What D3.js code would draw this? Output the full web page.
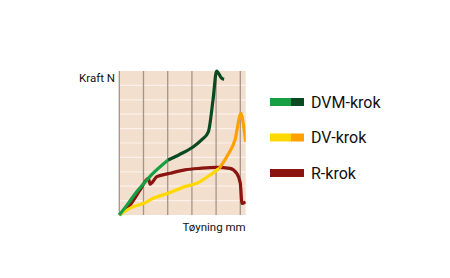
<!DOCTYPE html>
<html>
<head>
<meta charset="utf-8">
<script src="https://cdn.jsdelivr.net/npm/d3@7"></script>
<style>
  body { margin: 0; background: #fff; }
  text { font-family: Roboto, "Liberation Sans", sans-serif; fill: #111; }
</style>
</head>
<body>
<div id="chart"></div>
<script>
var svgWidth = 450;
var svgHeight = 278;

// plot box in pixels
var margin = { top: 71, left: 119.3, width: 126.4, height: 144 };

// readings from the picture (x: mm grid units, y: N grid units)
var dvmX = [0, 0.37, 0.72, 1.02, 1.40, 2.02, 2.51, 3.06, 3.40, 3.68, 3.88, 4.02, 4.23, 4.33];
var dvmY = [0, 0.81, 1.62, 2.20, 2.90, 3.82, 4.22, 4.74, 5.21, 5.78, 8.10, 10.0, 9.49, 9.42];
var dvmSplit = 5; // index where curve turns dark green

var dvX = [0, 0.58, 1.02, 1.40, 2.02, 2.71, 3.20, 3.75, 4.13, 4.44, 4.78, 5.03, 5.12, 5.22];
var dvY = [0, 0.58, 0.81, 1.16, 1.51, 1.97, 2.20, 2.78, 3.24, 4.05, 5.21, 7.06, 6.37, 5.09];
var dvSplit = 8;

var rX = [0, 0.44, 0.86, 1.20, 1.27, 1.55, 2.10, 2.71, 3.33, 4.02, 4.57, 4.85, 5.00, 5.07, 5.22];
var rY = [0, 0.69, 1.74, 2.55, 2.15, 2.66, 2.90, 3.13, 3.24, 3.31, 3.24, 2.90, 2.20, 0.81, 0.92];

var xTicks = [1, 2, 3, 4, 5];
var yTicks = [1, 2, 3, 4, 5, 6, 7, 8, 9];

var legendNames = ["DVM-krok", "DV-krok", "R-krok"];
var legendColors = [["#16a043", "#0a4a22"], ["#ffd800", "#ffa200"], ["#8a1410", "#8a1410"]];

var svg = d3.select("#chart")
    .append("svg")
    .attr("width", svgWidth)
    .attr("height", svgHeight);

var xScale = d3.scaleLinear()
    .domain([0, 5])
    .range([margin.left, margin.left + 121]);

var yScale = d3.scaleLinear()
    .domain([0, 10])
    .range([margin.top + margin.height, margin.top]);

svg.append("clipPath")
    .attr("id", "plotClip")
    .append("rect")
    .attr("x", margin.left - 2)
    .attr("y", margin.top - 4)
    .attr("width", margin.width + 2)
    .attr("height", margin.height + 8);

// background
svg.append("rect")
    .attr("x", margin.left)
    .attr("y", margin.top)
    .attr("width", margin.width)
    .attr("height", margin.height)
    .attr("fill", "#f3dfcd");

// horizontal light lines
svg.selectAll(".hgrid")
    .data(yTicks)
    .enter()
    .append("line")
    .attr("x1", margin.left)
    .attr("x2", margin.left + margin.width)
    .attr("y1", d => yScale(d))
    .attr("y2", d => yScale(d))
    .attr("stroke", "#fbf1ea")
    .attr("stroke-width", 1.2);

// vertical darker lines
svg.selectAll(".vgrid")
    .data([0].concat(xTicks))
    .enter()
    .append("line")
    .attr("x1", d => xScale(d))
    .attr("x2", d => xScale(d))
    .attr("y1", margin.top)
    .attr("y2", margin.top + margin.height)
    .attr("stroke", "#a49488")
    .attr("stroke-width", 1.3);

var line = d3.line()
    .x(d => xScale(d[0]))
    .y(d => yScale(d[1]))
    .curve(d3.curveMonotoneX);

function drawCurve(xs, ys, from, to, color) {
    var pts = d3.zip(xs, ys).slice(from, to);
    svg.append("path")
        .datum(pts)
        .attr("d", line)
        .attr("fill", "none")
        .attr("stroke", color)
        .attr("stroke-width", 3.2)
        .attr("stroke-linejoin", "round")
        .attr("clip-path", "url(#plotClip)");
}

drawCurve(rX, rY, 0, rX.length, legendColors[2][0]);
drawCurve(dvX, dvY, 0, dvSplit + 1, legendColors[1][0]);
drawCurve(dvX, dvY, dvSplit, dvX.length, legendColors[1][1]);
drawCurve(dvmX, dvmY, 0, dvmSplit + 1, legendColors[0][0]);
drawCurve(dvmX, dvmY, dvmSplit, dvmX.length, legendColors[0][1]);

// axis labels
svg.append("text")
    .attr("x", 79)
    .attr("y", 81.5)
    .attr("font-size", "11.5px")
    .text("Kraft N");

svg.append("text")
    .attr("x", margin.left + margin.width)
    .attr("y", 230.5)
    .attr("text-anchor", "end")
    .attr("font-size", "11.5px")
    .text("Tøyning mm");

// legend
var legend = svg.selectAll(".legend")
    .data(legendNames)
    .enter()
    .append("g")
    .attr("transform", (d, i) => `translate(270, ${98 + i * 35.5})`);

legend.append("rect")
    .attr("width", 21)
    .attr("height", 8)
    .attr("fill", (d, i) => legendColors[i][0]);

legend.append("rect")
    .attr("x", 21)
    .attr("width", 13)
    .attr("height", 8)
    .attr("fill", (d, i) => legendColors[i][1]);

legend.append("text")
    .attr("x", 41)
    .attr("y", 9.5)
    .attr("font-size", "16px")
    .text(d => d);
</script>
</body>
</html>
